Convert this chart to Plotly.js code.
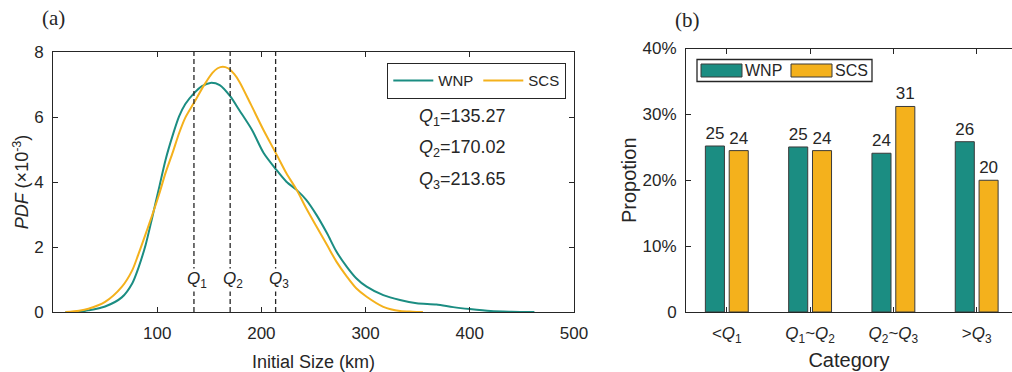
<!DOCTYPE html>
<html><head><meta charset="utf-8">
<script src="https://cdn.plot.ly/plotly-3.0.1.min.js"></script>
<style>html,body{margin:0;padding:0;background:#fff}#chart{width:1012px;height:372px}</style>
</head><body><div id="chart"></div>
<script>
// ---- Panel (a): PDF curves (values x1e-3) ----
const wnpX = [12, 25, 34, 50, 66, 76, 82, 89, 95, 102, 108, 115, 121, 127, 135, 143, 151, 160, 170, 179, 191, 202, 214, 224, 234, 243, 253, 263, 272, 282, 291, 301, 317, 333, 349, 368, 384, 400, 420, 440, 462];
const wnpY = [0, 0.01, 0.05, 0.17, 0.45, 0.88, 1.36, 2.08, 2.88, 3.85, 4.68, 5.45, 6.02, 6.4, 6.72, 6.95, 7.05, 6.98, 6.64, 6.2, 5.6, 4.9, 4.39, 4.01, 3.75, 3.45, 2.98, 2.42, 1.86, 1.39, 1.04, 0.78, 0.52, 0.37, 0.27, 0.23, 0.15, 0.09, 0.03, 0.01, 0];
const scsX = [12, 25, 34, 50, 66, 76, 82, 90, 95, 102, 108, 115, 121, 127, 135, 145, 153, 158, 163, 168, 174, 179, 190, 202, 214, 224, 234, 243, 253, 263, 272, 282, 291, 301, 317, 333, 345, 355];
const scsY = [0, 0.04, 0.1, 0.31, 0.77, 1.28, 1.78, 2.5, 2.96, 3.64, 4.28, 4.92, 5.5, 5.98, 6.42, 6.98, 7.36, 7.5, 7.55, 7.5, 7.32, 7.08, 6.38, 5.6, 4.88, 4.27, 3.75, 3.19, 2.62, 2.06, 1.55, 1.09, 0.73, 0.47, 0.16, 0.03, 0.01, 0];
const quartileValues = [135.27, 170.02, 213.65];
const quartileLabels = ['<i>Q</i><sub>1</sub>', '<i>Q</i><sub>2</sub>', '<i>Q</i><sub>3</sub>'];
const quartileTexts = ['135.27', '170.02', '213.65'];

// ---- Panel (b): proportions (%) ----
const categoryLabels = ['&lt;<i>Q</i><sub>1</sub>', '<i>Q</i><sub>1</sub>~<i>Q</i><sub>2</sub>', '<i>Q</i><sub>2</sub>~<i>Q</i><sub>3</sub>', '&gt;<i>Q</i><sub>3</sub>'];
const categoryIndex = [0, 1, 2, 3];
const wnpProp = [25.2, 25.05, 24.1, 25.85];
const scsProp = [24.5, 24.5, 31.2, 20.0];
const wnpText = ['25', '25', '24', '26'];
const scsText = ['24', '24', '31', '20'];
const propTicks = [0, 10, 20, 30, 40];
const propTickText = ['0', '10%', '20%', '30%', '40%'];

const F = '"Liberation Sans", Arial, Helvetica, sans-serif';
const SERIF = '"Liberation Serif", "Times New Roman", serif';
const TEAL = '#1b8d82';
const GOLD = '#f4b11c';
const INK = '#262626';
const W = 1012, H = 372;
const px = v => v / W, py = v => 1 - v / H;

const traces = [
  {x: wnpX, y: wnpY, type: 'scatter', mode: 'lines', name: 'WNP', line: {color: TEAL, width: 2, shape: 'spline', smoothing: 0.8}, xaxis: 'x', yaxis: 'y'},
  {x: scsX, y: scsY, type: 'scatter', mode: 'lines', name: 'SCS', line: {color: GOLD, width: 2, shape: 'spline', smoothing: 0.8}, xaxis: 'x', yaxis: 'y'}
];
quartileValues.forEach(q => traces.push({x: [q, q], y: [0, 8], type: 'scatter', mode: 'lines', showlegend: false, hoverinfo: 'skip', line: {color: INK, width: 1.3, dash: '5px,3px'}, xaxis: 'x', yaxis: 'y'}));
traces.push({x: categoryIndex, y: wnpProp, type: 'bar', name: 'WNP', showlegend: false, text: wnpText, textposition: 'outside', constraintext: 'none', cliponaxis: false, textfont: {family: F, size: 17, color: INK}, marker: {color: TEAL, line: {color: '#3a3a3a', width: 1}}, xaxis: 'x2', yaxis: 'y2'});
traces.push({x: categoryIndex, y: scsProp, type: 'bar', name: 'SCS', showlegend: false, text: scsText, textposition: 'outside', constraintext: 'none', cliponaxis: false, textfont: {family: F, size: 17, color: INK}, marker: {color: GOLD, line: {color: '#3a3a3a', width: 1}}, xaxis: 'x2', yaxis: 'y2'});

const axisCommon = {showline: true, linecolor: INK, linewidth: 1, ticks: 'inside', ticklen: 5, tickcolor: INK, mirror: 'allticks', zeroline: false, showgrid: false, tickfont: {family: F, size: 17, color: INK}, fixedrange: true};

const annotations = [];
quartileValues.forEach((q, i) => annotations.push({xref: 'x', yref: 'y', x: q + 3, y: 1.0, text: quartileLabels[i], showarrow: false, xanchor: 'center', yanchor: 'middle', bgcolor: '#ffffff', borderpad: 0, font: {family: F, size: 17, color: INK}}));
quartileValues.forEach((q, i) => annotations.push({xref: 'x', yref: 'y', x: 349, y: 6.0 - i * 0.98, text: quartileLabels[i] + '=' + quartileTexts[i], showarrow: false, xanchor: 'left', yanchor: 'middle', font: {family: F, size: 18, color: INK}}));
annotations.push({xref: 'paper', yref: 'paper', x: px(53), y: py(18), text: '(a)', showarrow: false, xanchor: 'center', yanchor: 'middle', font: {family: SERIF, size: 21, color: INK}});
annotations.push({xref: 'paper', yref: 'paper', x: px(687), y: py(20), text: '(b)', showarrow: false, xanchor: 'center', yanchor: 'middle', font: {family: SERIF, size: 21, color: INK}});
// legend for panel (b)
annotations.push({xref: 'paper', yref: 'paper', x: px(743), y: py(70.5), text: 'WNP', showarrow: false, xanchor: 'left', yanchor: 'middle', font: {family: F, size: 16, color: INK}});
annotations.push({xref: 'paper', yref: 'paper', x: px(833), y: py(70.5), text: 'SCS', showarrow: false, xanchor: 'left', yanchor: 'middle', font: {family: F, size: 16, color: INK}});

const shapes = [
  {type: 'rect', xref: 'paper', yref: 'paper', x0: px(697), x1: px(872), y0: py(81.5), y1: py(59.5), line: {color: INK, width: 1.3}, fillcolor: '#ffffff'},
  {type: 'rect', xref: 'paper', yref: 'paper', x0: px(701), x1: px(742), y0: py(77), y1: py(64), line: {color: '#3a3a3a', width: 1}, fillcolor: TEAL},
  {type: 'rect', xref: 'paper', yref: 'paper', x0: px(791), x1: px(832), y0: py(77), y1: py(64), line: {color: '#3a3a3a', width: 1}, fillcolor: GOLD}
];

const layout = {
  width: W, height: H, margin: {l: 0, r: 0, t: 0, b: 0},
  paper_bgcolor: '#fff', plot_bgcolor: '#fff',
  font: {family: F, color: INK},
  showlegend: true,
  legend: {orientation: 'h', x: px(566), xanchor: 'right', y: py(63), yanchor: 'top', bordercolor: INK, borderwidth: 1.3, bgcolor: '#fff', font: {family: F, size: 15, color: INK}, itemwidth: 40, tracegroupgap: 0},
  barmode: 'group', bargap: 0.428, bargroupgap: 0.2,
  xaxis: Object.assign({}, axisCommon, {domain: [px(53), px(574)], range: [0, 500], tickvals: [100, 200, 300, 400, 500], anchor: 'y', ticklabelstandoff: 6, title: {text: 'Initial Size (km)', font: {family: F, size: 18, color: INK}, standoff: 12}}),
  yaxis: Object.assign({}, axisCommon, {domain: [1 - 312 / H, 1 - 52 / H], range: [0, 8], tickvals: [0, 2, 4, 6, 8], anchor: 'x', ticklabelstandoff: 5, title: {text: '<i>PDF</i> (×10<sup>-3</sup>)', font: {family: F, size: 18, color: INK}, standoff: 0}}),
  xaxis2: Object.assign({}, axisCommon, {domain: [px(686), 1], range: [-0.49, 3.424], tickvals: categoryIndex, ticktext: categoryLabels, anchor: 'y2', ticklabelstandoff: 6, title: {text: 'Category', font: {family: F, size: 20, color: INK}, standoff: 8}}),
  yaxis2: Object.assign({}, axisCommon, {domain: [1 - 312 / H, 1 - 48.5 / H], range: [0, 40], tickvals: propTicks, ticktext: propTickText, anchor: 'x2', mirror: false, ticklabelstandoff: 5, title: {text: 'Propotion', font: {family: F, size: 20, color: INK}, standoff: 0}}),
  annotations: annotations,
  shapes: shapes
};

Plotly.newPlot('chart', traces, layout, {displayModeBar: false});
</script>
</body></html>
